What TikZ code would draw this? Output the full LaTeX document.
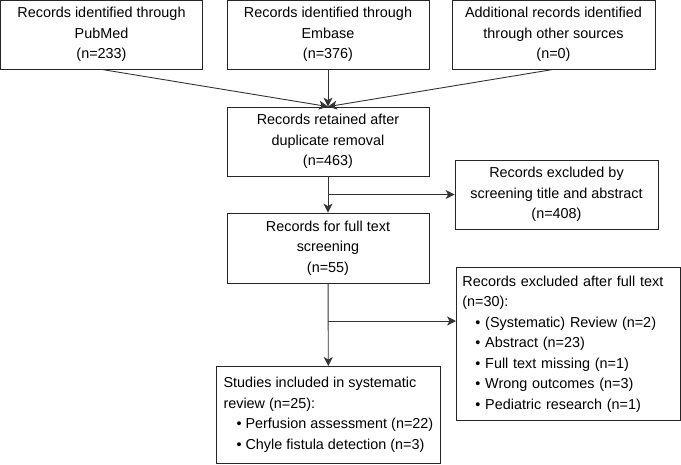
\documentclass[tikz,border=0pt]{standalone}
\usepackage{fontspec}
\setmainfont{Liberation Sans}
\usetikzlibrary{positioning,arrows.meta}
\tikzset{
    every node/.style={
        font=\fontsize{14.4}{20.5}\selectfont
    },
    block/.style={
        shape=rectangle,
        draw=black!85,
        line width=0.8pt,
        align=center,
        inner sep=0pt,
        minimum width=202pt,
        minimum height=69pt
    },
    listbox/.style={
        shape=rectangle,
        draw=black!85,
        line width=0.8pt,
        align=left,
        inner xsep=6pt,
        inner ysep=0pt,
        anchor=north west
    },
    flow/.style={
        draw=black!80,
        line width=0.9pt,
        -{Stealth[length=9pt,width=9pt,inset=2.5pt]}
    }
}
\newcommand{\bul}{\hspace*{13pt}\textbullet\ }

\begin{document}
\begin{tikzpicture}[x=1pt, y=1pt]
		\useasboundingbox (0,0) rectangle (681,-464);
		\node (pm) at (101.5,-34.5) [block] {Records identified through\\PubMed\\(n=233)};
		\node (em) at (328,-34.5) [block] {Records identified through\\Embase\\(n=376)};
		\node (ad) at (553.5,-34.5) [block, minimum width=203pt] {Additional records identified\\through other sources\\(n=0)};
		
		\node (rt) at (328,-141.5) [block] {Records retained after\\duplicate removal\\(n=463)};
		\node (ex1) at (556.5,-194.5) [block, minimum width=203pt] {Records excluded by\\screening title and abstract\\(n=408)};
		
		\node (ft) at (328,-248) [block, minimum height=70pt] {Records for full text\\screening\\(n=55)};
		\node (ex2) at (456,-267) [listbox, text width=212pt, minimum height=153pt] {Records excluded after full text\\(n=30):\\
			\bul (Systematic) Review (n=2)\\
			\bul Abstract (n=23)\\
			\bul Full text missing (n=1)\\
			\bul Wrong outcomes (n=3)\\
			\bul Pediatric research (n=1)};
		
		\node (inc) at (216,-366) [listbox, minimum width=224pt, minimum height=97pt] {Studies included in systematic\\review (n=25):\\
			\bul Perfusion assessment (n=22)\\
			\bul Chyle fistula detection (n=3)};
		
		\coordinate (b1) at (328,-194.5);
		\coordinate (b2) at (328,-321);
		
		\draw [flow] (pm.south) -- (rt.north);
		\draw [flow] (em) -- (rt);
		\draw [flow] (ad.south) -- (rt.north);
		\draw [flow] (rt) -- (ft);
		\draw [flow] (b1) -- (ex1.west);
		\draw [flow] (ft) -- (inc);
		\draw [flow] (b2) -- (b2 -| ex2.west);
	\end{tikzpicture}
\end{document}
